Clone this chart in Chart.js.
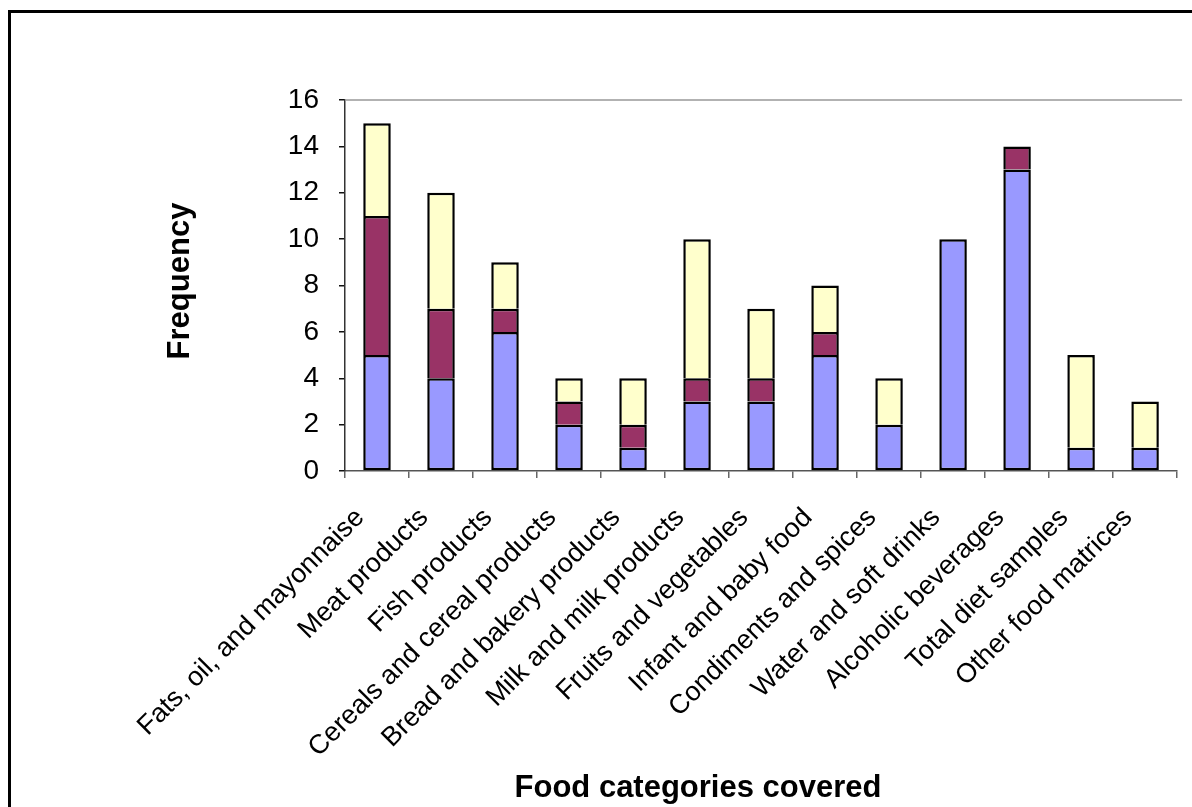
<!DOCTYPE html>
<html>
<head>
<meta charset="utf-8">
<script src="https://cdn.jsdelivr.net/npm/chart.js@4"></script>
<style>
  html, body { margin: 0; padding: 0; background: #fff; overflow: hidden; }
  #chart { display: block; }
</style>
</head>
<body>
<canvas id="chart" width="1192" height="807"></canvas>
<script>
const categories = [
  "Fats, oil, and mayonnaise", "Meat products", "Fish products",
  "Cereals and cereal products", "Bread and bakery products",
  "Milk and milk products", "Fruits and vegetables", "Infant and baby food",
  "Condiments and spices", "Water and soft drinks", "Alcoholic beverages",
  "Total diet samples", "Other food matrices"
];
const blueValues   = [5, 4, 6, 2, 1, 3, 3, 5, 2, 10, 13, 1, 1];
const maroonValues = [6, 3, 1, 1, 1, 1, 1, 1, 0, 0, 1, 0, 0];
const yellowValues = [4, 5, 2, 1, 2, 6, 3, 2, 2, 0, 0, 4, 2];
const yTicks = [0, 2, 4, 6, 8, 10, 12, 14, 16];

const FONT = "'Liberation Sans', Arial, sans-serif";

// frame, top plot line and the two axis titles
const extras = {
  id: "extras",
  beforeDraw(chart) {
    const c = chart.ctx;
    c.save();
    c.fillStyle = "#fff";
    c.fillRect(0, 0, chart.width, chart.height);
    c.strokeStyle = "#000";
    c.lineWidth = 3;
    c.strokeRect(9.5, 11.5, 1400, 1000);
    c.restore();
  },
  afterDraw(chart) {
    const c = chart.ctx;
    const a = chart.chartArea;
    c.save();
    c.strokeStyle = "#999";
    c.lineWidth = 1.5;
    c.beginPath();
    c.moveTo(a.left, a.top);
    c.lineTo(a.right + 5, a.top);
    c.stroke();

    c.fillStyle = "#000";
    c.font = "bold 31px " + FONT;
    c.textAlign = "center";
    c.textBaseline = "alphabetic";
    c.fillText("Food categories covered", 698, 797);

    c.translate(189, 281);
    c.rotate(-Math.PI / 2);
    c.fillText("Frequency", 0, 0);
    c.restore();
  }
};

const upperEdges = { top: 2.5, left: 2.5, right: 2.5, bottom: 0 };

new Chart("chart", {
  type: "bar",
  data: {
    labels: categories,
    datasets: [
      { data: blueValues, backgroundColor: "#9999ff", borderWidth: 2.5 },
      { data: maroonValues, backgroundColor: "#993366", borderWidth: upperEdges },
      { data: yellowValues, backgroundColor: "#ffffcc", borderWidth: upperEdges }
    ].map(d => Object.assign(d, {
      borderColor: "#000",
      borderSkipped: false,
      inflateAmount: 0,
      categoryPercentage: 1,
      barPercentage: 0.43
    }))
  },
  options: {
    responsive: false,
    animation: false,
    devicePixelRatio: 1,
    layout: { padding: { left: 0, top: 100, right: 0, bottom: 0 } },
    plugins: {
      legend: { display: false },
      tooltip: { enabled: false }
    },
    scales: {
      x: {
        stacked: true,
        afterFit(s) { s.height = 336; },
        border: { color: "#555", width: 1.5 },
        grid: { drawOnChartArea: false, tickLength: 7, color: "#666", lineWidth: 1.5 },
        ticks: {
          autoSkip: false,
          minRotation: 45,
          maxRotation: 45,
          padding: 24,
          labelOffset: -17,
          color: "#000",
          font: { family: FONT, size: 27 }
        }
      },
      y: {
        stacked: true,
        min: 0,
        max: 16,
        afterFit(s) { s.width = 345; },
        afterBuildTicks(s) { s.ticks = yTicks.map(v => ({ value: v })); },
        border: { color: "#333", width: 1.5 },
        grid: { drawOnChartArea: false, tickLength: 6, color: "#111", lineWidth: 1.5 },
        ticks: {
          padding: 20,
          color: "#000",
          font: { family: FONT, size: 28 }
        }
      }
    }
  },
  plugins: [extras]
});
</script>
</body>
</html>
